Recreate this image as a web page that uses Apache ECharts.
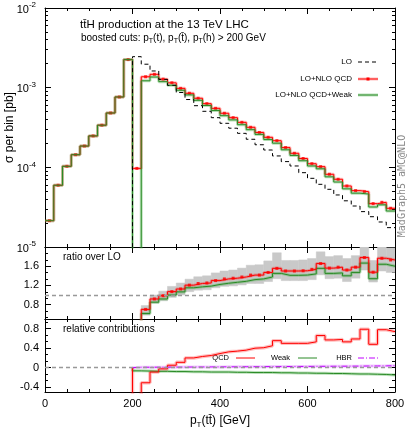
<!DOCTYPE html>
<html>
<head>
<meta charset="utf-8">
<script src="https://cdn.jsdelivr.net/npm/echarts@6/dist/echarts.min.js"></script>
<style>
  html, body { margin: 0; padding: 0; background: #fff; }
  #chart { width: 407px; height: 429px; }
</style>
</head>
<body>
<div id="chart"></div>
<script>
// 20 GeV bins, lower edges
const binWidth = 20;
const binLow = [0, 20, 40, 60, 80, 100, 120, 140, 160, 180,
  200, 220, 240, 260, 280, 300, 320, 340, 360, 380,
  400, 420, 440, 460, 480, 500, 520, 540, 560, 580,
  600, 620, 640, 660, 680, 700, 720, 740, 760, 780];

// sigma per bin [pb]
const xsLO = [0, 0, 0, 0, 0, 0, 0, 0, 0, 0,
  2.45e-3, 1.97e-3, 1.62e-3, 1.27e-3, 1.07e-3, 8.7e-4, 7.1e-4, 5.94e-4, 5.05e-4, 4.2e-4,
  3.57e-4, 3.1e-4, 2.67e-4, 2.25e-4, 1.92e-4, 1.65e-4, 1.39e-4, 1.18e-4, 1.04e-4, 8.57e-5,
  7.28e-5, 6.12e-5, 5.3e-5, 4.5e-5, 3.8e-5, 3.27e-5, 2.78e-5, 2.4e-5, 2.06e-5, 1.75e-5];
const xsQCD = [2.14e-5, 5.96e-5, 1.03e-4, 1.44e-4, 1.85e-4, 2.48e-4, 3.38e-4, 4.81e-4, 7.64e-4, 2.25e-3,
  9.7e-5, 1.37e-3, 1.47e-3, 1.28e-3, 1.15e-3, 9.8e-4, 8.5e-4, 7.36e-4, 6.3e-4, 5.5e-4,
  4.77e-4, 4.2e-4, 3.67e-4, 3.18e-4, 2.74e-4, 2.38e-4, 2.16e-4, 1.77e-4, 1.5e-4, 1.29e-4,
  1.11e-4, 1.02e-4, 8.18e-5, 7.08e-5, 5.83e-5, 5.1e-5, 4.94e-5, 3.5e-5, 3.64e-5, 3.06e-5];
const xsQCDWeak = [2.14e-5, 5.96e-5, 1.03e-4, 1.44e-4, 1.85e-4, 2.48e-4, 3.38e-4, 4.81e-4, 7.64e-4, 2.25e-3,
  -7e-5, 1.22e-3, 1.36e-3, 1.19e-3, 1.07e-3, 9.28e-4, 8.11e-4, 6.94e-4, 5.97e-4, 5.16e-4,
  4.45e-4, 3.94e-4, 3.43e-4, 2.97e-4, 2.59e-4, 2.23e-4, 2.01e-4, 1.66e-4, 1.41e-4, 1.21e-4,
  1.04e-4, 9.58e-5, 7.6e-5, 6.54e-5, 5.37e-5, 4.74e-5, 4.62e-5, 3.18e-5, 3.38e-5, 2.83e-5];

// ratio over LO, bins from 200 GeV
const ratioQCD = [0.04, 0.70, 0.917, 0.985, 1.07, 1.125, 1.205, 1.24, 1.25, 1.30,
  1.335, 1.35, 1.375, 1.415, 1.415, 1.47, 1.555, 1.50, 1.50, 1.505,
  1.535, 1.655, 1.56, 1.58, 1.52, 1.58, 1.78, 1.475, 1.765, 1.73];
const ratioQCDWeak = [-0.03, 0.615, 0.85, 0.917, 1.0, 1.065, 1.15, 1.17, 1.185, 1.22,
  1.245, 1.265, 1.285, 1.32, 1.335, 1.375, 1.45, 1.41, 1.41, 1.415,
  1.44, 1.555, 1.45, 1.46, 1.40, 1.47, 1.665, 1.34, 1.64, 1.60];
const bandLow = [0.03, 0.58, 0.83, 0.88, 0.95, 1.0, 1.07, 1.10, 1.11, 1.15,
  1.18, 1.19, 1.21, 1.24, 1.24, 1.28, 1.34, 1.30, 1.30, 1.30,
  1.32, 1.42, 1.34, 1.35, 1.28, 1.35, 1.52, 1.27, 1.50, 1.47];
const bandHigh = [0.05, 0.78, 1.0, 1.08, 1.18, 1.25, 1.33, 1.38, 1.40, 1.46,
  1.50, 1.52, 1.56, 1.62, 1.63, 1.71, 1.88, 1.72, 1.72, 1.73,
  1.76, 1.90, 1.80, 1.82, 1.76, 1.82, 2.0, 1.72, 2.0, 1.98];

// relative contributions, bins from 200 GeV
const relQCD = [-0.96, -0.31, -0.09, -0.025, 0.05, 0.11, 0.2, 0.23, 0.25, 0.29,
  0.325, 0.34, 0.36, 0.4, 0.41, 0.45, 0.555, 0.5, 0.5, 0.5,
  0.53, 0.66, 0.57, 0.58, 0.53, 0.59, 0.79, 0.48, 0.78, 0.74];
const relWeak = [-0.065, -0.07, -0.075, -0.075, -0.08, -0.08, -0.085, -0.085, -0.09, -0.09,
  -0.09, -0.095, -0.095, -0.1, -0.1, -0.1, -0.105, -0.105, -0.11, -0.11,
  -0.115, -0.115, -0.12, -0.12, -0.125, -0.13, -0.13, -0.135, -0.14, -0.15];
const relHBR = [0.008, 0.009, 0.010, 0.010, 0.011, 0.012, 0.013, 0.014, 0.015, 0.016,
  0.017, 0.018, 0.019, 0.020, 0.021, 0.022, 0.023, 0.024, 0.025, 0.026,
  0.027, 0.028, 0.029, 0.030, 0.031, 0.032, 0.034, 0.035, 0.037, 0.040];

const FONT = '"Liberation Sans", Arial, sans-serif';
const RED = '#ff0000', GREEN = '#2a8a26', PURPLE = '#c000ff';
const hiBins = binLow.slice(10);

// histogram outline: point at each lower edge, plus closing point at the last upper edge
function steps(x, v) {
  const pts = x.map((xi, i) => [xi, v[i]]);
  pts.push([x[x.length - 1] + binWidth, v[v.length - 1]]);
  return pts;
}
// empty / negative bins sit far below the log axis so the edges drop out of the frame
const logSafe = v => v > 0 ? v : 1e-9;
const centres = (x, v) => x.map((xi, i) => [xi + binWidth / 2, v[i]]);

function xAx(grid, position, labels) {
  return {
    type: 'value', gridIndex: grid, position, min: 0, max: 800, interval: 200,
    axisLine: { show: true, onZero: false, lineStyle: { color: '#000', width: 1 } },
    axisTick: { show: true, inside: true, length: 6, lineStyle: { color: '#000' } },
    minorTick: { show: true, splitNumber: 4, length: 3, lineStyle: { color: '#000' } },
    axisLabel: { show: labels, fontSize: 11, fontFamily: FONT, color: '#000', margin: 6 },
    splitLine: { show: false }, minorSplitLine: { show: false }
  };
}

function yAx(grid, side, base, ticks, len, labelVals) {
  return Object.assign({
    gridIndex: grid, position: side,
    axisLine: { show: len > 4, onZero: false, lineStyle: { color: '#000', width: 1 } },
    axisTick: { show: true, inside: true, length: len, customValues: ticks, lineStyle: { color: '#000' } },
    axisLabel: labelVals ? {
      show: true, customValues: labelVals, fontSize: 11, fontFamily: FONT, color: '#000', margin: 6
    } : { show: false },
    splitLine: { show: false }
  }, base);
}

const logMajor = [1e-5, 1e-4, 1e-3, 1e-2];
const logMinor = [];
[-5, -4, -3].forEach(d => { for (let m = 2; m <= 9; m++) logMinor.push(m * Math.pow(10, d)); });
const logBase = { type: 'log', logBase: 10, min: 1e-5, max: 1e-2 };

const ratioMajor = [0.8, 1.2, 1.6, 2.0];
const ratioMinor = [0.5333, 0.6667, 0.9333, 1.0667, 1.3333, 1.4667, 1.7333, 1.8667];
const ratioBase = { type: 'value', min: 0.5, max: 2.0 };

const relMajor = [-0.4, 0, 0.4, 0.8];
const relMinor = [-0.2667, -0.1333, 0.1333, 0.2667, 0.5333, 0.6667, 0.9333];
const relBase = { type: 'value', min: -0.5, max: 1.0 };

const yAxes = [
  yAx(0, 'left', logBase, logMajor, 6, logMajor),
  yAx(0, 'left', logBase, logMinor, 3, null),
  yAx(0, 'right', logBase, logMajor, 6, null),
  yAx(0, 'right', logBase, logMinor, 3, null),
  yAx(1, 'left', ratioBase, ratioMajor, 6, [0.8, 1.2, 1.6]),
  yAx(1, 'left', ratioBase, ratioMinor, 3, null),
  yAx(1, 'right', ratioBase, ratioMajor, 6, null),
  yAx(1, 'right', ratioBase, ratioMinor, 3, null),
  yAx(2, 'left', relBase, relMajor, 6, relMajor),
  yAx(2, 'left', relBase, relMinor, 3, null),
  yAx(2, 'right', relBase, relMajor, 6, null),
  yAx(2, 'right', relBase, relMinor, 3, null)
];
yAxes[0].axisLabel.margin = 9;
yAxes[0].axisLabel.formatter = v => '{b|10}{s|' + Math.round(Math.log10(v)) + '}';
yAxes[0].axisLabel.rich = {
  b: { fontSize: 11, fontFamily: FONT, color: '#000', verticalAlign: 'bottom' },
  s: { fontSize: 8, fontFamily: FONT, color: '#000', verticalAlign: 'top', padding: [0, 0, 6, 0] }
};
yAxes[0].name = 'σ per bin [pb]';
yAxes[0].nameLocation = 'middle';
yAxes[0].nameGap = 29;
yAxes[0].nameMoveOverlap = false;
yAxes[0].nameTextStyle = { fontSize: 12, fontFamily: FONT, color: '#000' };

const xAxes = [xAx(0, 'bottom', false), xAx(0, 'top', false),
  xAx(1, 'bottom', false), xAx(1, 'top', false),
  xAx(2, 'bottom', true), xAx(2, 'top', false)];
xAxes[4].name = '{n|p}{s|T}{n|(tt\u0304) [GeV]}';
xAxes[4].nameLocation = 'middle';
xAxes[4].nameGap = 23;
xAxes[4].nameTextStyle = {
  rich: {
    n: { fontSize: 12, fontFamily: FONT, color: '#000', verticalAlign: 'top', lineHeight: 14 },
    s: { fontSize: 8, fontFamily: FONT, color: '#000', verticalAlign: 'top', lineHeight: 8, padding: [6, 0, 0, 0] }
  }
};

function stepLine(xi, yi, data, color, width, extra) {
  return Object.assign({
    type: 'line', xAxisIndex: xi, yAxisIndex: yi, data, step: 'end',
    showSymbol: false, symbol: 'none', clip: true, silent: true, animation: false,
    lineStyle: { color, width }
  }, extra || {});
}

const bandRed = 'rgba(255,0,0,0.25)';
const bandGreen = 'rgba(60,170,60,0.35)';
const bandPurple = 'rgba(192,0,255,0.2)';

const series = [
  // main panel
  stepLine(0, 0, steps(binLow, xsQCD.map(logSafe)), bandRed, 3),
  stepLine(0, 0, steps(binLow, xsQCDWeak.map(logSafe)), bandGreen, 3),
  stepLine(0, 0, steps(binLow, xsQCD.map(logSafe)), RED, 1),
  stepLine(0, 0, steps(binLow, xsQCDWeak.map(logSafe)), GREEN, 1),
  stepLine(0, 0, steps(binLow, xsLO.map(logSafe)), '#000', 1, {
    lineStyle: { color: '#000', width: 1, type: [4, 3] }
  }),
  {
    type: 'scatter', xAxisIndex: 0, yAxisIndex: 0, data: centres(binLow, xsQCD),
    symbol: 'rect', symbolSize: [3, 3], itemStyle: { color: RED }, clip: true, silent: true, animation: false
  },
  // ratio panel
  {
    type: 'custom', xAxisIndex: 2, yAxisIndex: 4, clip: true, silent: true, animation: false,
    data: hiBins.map((x, i) => [x, x + binWidth, bandLow[i], bandHigh[i]]),
    encode: { x: [0, 1], y: [2, 3] },
    renderItem: (params, api) => {
      const p0 = api.coord([api.value(0), api.value(3)]);
      const p1 = api.coord([api.value(1), api.value(2)]);
      return {
        type: 'rect',
        shape: { x: p0[0], y: p0[1], width: p1[0] - p0[0], height: p1[1] - p0[1] },
        style: { fill: '#c9c9c9', stroke: '#c9c9c9', lineWidth: 0.5 }
      };
    },
    markLine: {
      silent: true, symbol: 'none', label: { show: false }, animation: false,
      lineStyle: { color: '#999', type: [4, 3], width: 1.4 },
      data: [{ yAxis: 1 }]
    }
  },
  stepLine(2, 4, steps(hiBins, ratioQCDWeak), bandGreen, 3),
  stepLine(2, 4, steps(hiBins, ratioQCD), bandRed, 3),
  stepLine(2, 4, steps(hiBins, ratioQCDWeak), GREEN, 1),
  stepLine(2, 4, steps(hiBins, ratioQCD), RED, 1),
  {
    type: 'scatter', xAxisIndex: 2, yAxisIndex: 4, data: centres(hiBins, ratioQCD),
    symbol: 'rect', symbolSize: [3, 3], itemStyle: { color: RED }, clip: true, silent: true, animation: false
  },
  // relative contributions panel (starts from zero at 200 GeV)
  stepLine(4, 8, [[200, 0]].concat(steps(hiBins, relHBR)), bandPurple, 3, {
    markLine: {
      silent: true, symbol: 'none', label: { show: false }, animation: false,
      lineStyle: { color: '#999', type: [4, 3], width: 1.4 },
      data: [{ yAxis: 0 }]
    }
  }),
  stepLine(4, 8, [[200, 0]].concat(steps(hiBins, relWeak)), bandGreen, 3),
  stepLine(4, 8, [[200, 0]].concat(steps(hiBins, relQCD)), bandRed, 3.5),
  stepLine(4, 8, [[200, 0]].concat(steps(hiBins, relHBR)), PURPLE, 1, {
    lineStyle: { color: PURPLE, width: 1, type: [6, 2, 1, 2] }
  }),
  stepLine(4, 8, [[200, 0]].concat(steps(hiBins, relWeak)), GREEN, 1),
  stepLine(4, 8, [[200, 0]].concat(steps(hiBins, relQCD)), RED, 1)
];

const txt = (x, y, text, size, align, extra) => ({
  type: 'text', x, y, silent: true,
  style: Object.assign({
    text, font: size + 'px ' + FONT, fill: '#000', align: align || 'left', verticalAlign: 'middle'
  }, extra || {})
});
const seg = (x1, x2, y, stroke, width, dash) => ({
  type: 'line', silent: true, shape: { x1, y1: y, x2, y2: y },
  style: { stroke, lineWidth: width, lineDash: dash || null }
});

const graphic = [
  txt(80, 25, 'tt\u0304H production at the 13 TeV LHC', 11.5),
  txt(81, 38, 'boosted cuts: p{s|T}(t), p{s|T}(t\u0304), p{s|T}(h) > 200 GeV', 10, 'left', {
    rich: {
      s: { fontSize: 7, fontFamily: FONT, fill: '#000', verticalAlign: 'top', padding: [6, 0, 0, 0] }
    }
  }),
  // main legend
  txt(352, 62, 'LO', 8, 'right'),
  seg(358, 378, 62, '#000', 1, [4, 3]),
  txt(352, 79, 'LO+NLO QCD', 8, 'right'),
  seg(358, 378, 79, bandRed, 3),
  seg(358, 378, 79, RED, 1),
  { type: 'rect', silent: true, shape: { x: 366.5, y: 77.5, width: 3, height: 3 }, style: { fill: RED } },
  txt(352, 95, 'LO+NLO QCD+Weak', 8, 'right'),
  seg(358, 378, 95, bandGreen, 3),
  seg(358, 378, 95, GREEN, 1),
  // panel labels
  txt(63, 257, 'ratio over LO', 10),
  txt(63, 329, 'relative contributions', 10),
  // contributions legend
  txt(229, 358, 'QCD', 7.5, 'right'),
  seg(236, 255, 358, RED, 1),
  txt(290, 358, 'Weak', 7.5, 'right'),
  seg(298, 317, 358, GREEN, 1),
  txt(352, 358, 'HBR', 7.5, 'right'),
  seg(358, 378, 358, PURPLE, 1, [6, 2, 1, 2]),
  // generator tag
  {
    type: 'text', x: 402, y: 186, rotation: Math.PI / 2, silent: true,
    style: { text: 'MadGraph5_aMC@NLO', font: '10px "DejaVu Sans Mono", monospace', fill: '#8a8a8a', align: 'center', verticalAlign: 'middle' }
  }
];

const chart = echarts.init(document.getElementById('chart'));
chart.setOption({
  animation: false,
  backgroundColor: '#fff',
  grid: [
    { left: 45, top: 8, width: 350, height: 239, outerBoundsMode: 'none' },
    { left: 45, top: 247, width: 350, height: 72, outerBoundsMode: 'none' },
    { left: 45, top: 319, width: 350, height: 73, outerBoundsMode: 'none' }
  ],
  xAxis: xAxes,
  yAxis: yAxes,
  series,
  graphic
});
window.addEventListener('resize', () => chart.resize());
</script>
</body>
</html>
